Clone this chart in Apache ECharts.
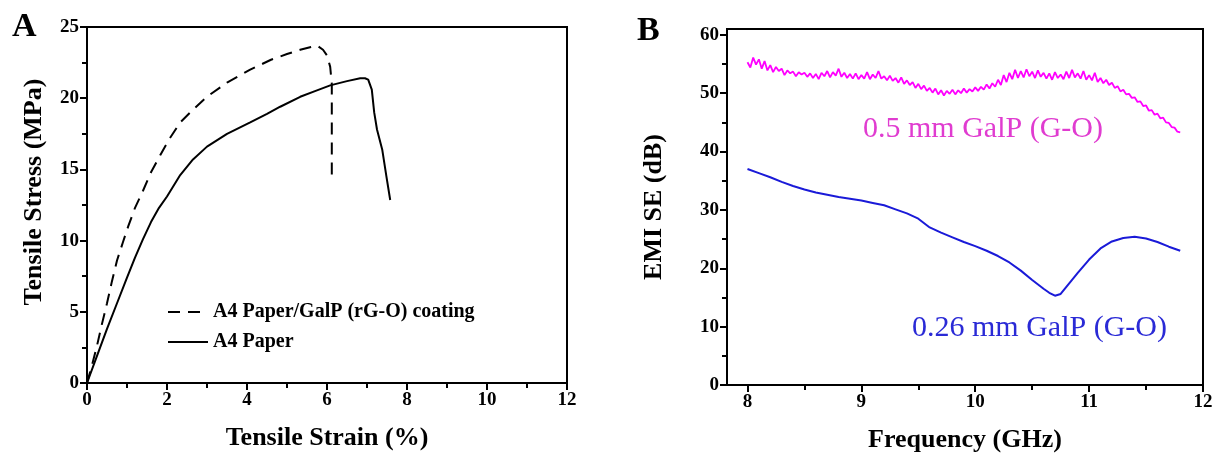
<!DOCTYPE html>
<html>
<head>
<meta charset="utf-8">
<script src="https://cdn.jsdelivr.net/npm/echarts@6/dist/echarts.min.js"></script>
<style>
html, body { margin: 0; padding: 0; background: #fff; }
#main { width: 1216px; height: 461px; }
</style>
</head>
<body>
<div id="main"></div>
<script>
// panel A: tensile test
var strainTicksA = [0, 2, 4, 6, 8, 10, 12];
var stressTicksA = [0, 5, 10, 15, 20, 25];
var coatedCurve = [
    [0, 0], [0.12, 1.2], [0.24, 2.5], [0.37, 4.1], [0.5, 5.6], [0.62, 7.1], [0.75, 8.6],
    [0.9, 9.9], [1.03, 11.0], [1.2, 12.3], [1.4, 13.5], [1.6, 14.8], [1.83, 16.0],
    [2.05, 17.1], [2.33, 18.3], [2.65, 19.2], [3.0, 20.1], [3.5, 21.1], [4.08, 22.0],
    [4.6, 22.7], [5.0, 23.1], [5.33, 23.4], [5.6, 23.6], [5.75, 23.7], [5.9, 23.4],
    [6.0, 23.0], [6.08, 22.2], [6.12, 21.0], [6.12, 14.5]
];
var paperCurve = [
    [0, 0], [0.25, 1.9], [0.5, 3.8], [0.75, 5.6], [1.0, 7.4], [1.2, 8.8], [1.4, 10.1],
    [1.6, 11.3], [1.8, 12.3], [2.0, 13.1], [2.33, 14.6], [2.65, 15.7], [3.0, 16.6],
    [3.5, 17.5], [4.08, 18.3], [4.5, 18.9], [4.83, 19.4], [5.33, 20.1], [5.7, 20.5],
    [6.08, 20.9], [6.5, 21.2], [6.83, 21.4], [6.95, 21.4], [7.03, 21.3], [7.12, 20.6],
    [7.18, 19.0], [7.25, 17.8], [7.38, 16.4], [7.48, 14.6], [7.58, 12.85]
];
var legendA = ['A4 Paper/GalP (rG-O) coating', 'A4 Paper'];

// panel B: EMI shielding
var freqTicksB = [8, 9, 10, 11, 12];
var freqMinorB = [8.5, 9.5, 10.5, 11.5];
var seTicksB = [0, 10, 20, 30, 40, 50, 60];
var seMinorB = [5, 15, 25, 35, 45, 55];
var thickCurve = [
    [8.000, 55.3], [8.025, 54.4], [8.050, 56.1], [8.075, 54.9], [8.100, 55.8], [8.125, 54.2],
    [8.150, 55.5], [8.175, 53.9], [8.200, 54.8], [8.225, 53.6], [8.250, 54.5], [8.275, 53.8],
    [8.300, 54.2], [8.325, 53.1], [8.350, 53.9], [8.375, 53.4], [8.400, 53.7], [8.425, 52.9],
    [8.450, 53.6], [8.475, 53.2], [8.500, 53.5], [8.525, 52.8], [8.550, 53.4], [8.575, 52.6],
    [8.600, 53.3], [8.625, 52.4], [8.650, 53.5], [8.675, 52.9], [8.700, 53.8], [8.725, 52.7],
    [8.750, 53.6], [8.775, 53.0], [8.800, 54.2], [8.825, 52.8], [8.850, 53.5], [8.875, 52.6],
    [8.900, 53.3], [8.925, 52.5], [8.950, 53.4], [8.975, 52.4], [9.000, 53.1], [9.025, 52.5],
    [9.050, 53.6], [9.075, 52.4], [9.100, 53.2], [9.125, 52.6], [9.150, 53.8], [9.175, 52.5],
    [9.200, 52.9], [9.225, 52.2], [9.250, 53.0], [9.275, 52.1], [9.300, 52.6], [9.325, 51.8],
    [9.350, 52.7], [9.375, 51.6], [9.400, 52.2], [9.425, 51.4], [9.450, 51.9], [9.475, 50.9],
    [9.500, 51.6], [9.525, 50.7], [9.550, 51.3], [9.575, 50.4], [9.600, 50.9], [9.625, 50.1],
    [9.650, 50.8], [9.675, 49.8], [9.700, 50.5], [9.725, 49.6], [9.750, 50.4], [9.775, 49.9],
    [9.800, 50.6], [9.825, 49.8], [9.850, 50.5], [9.875, 50.0], [9.900, 50.8], [9.925, 50.1],
    [9.950, 50.7], [9.975, 50.3], [10.000, 51.0], [10.025, 50.4], [10.050, 51.1], [10.075, 50.6],
    [10.100, 51.5], [10.125, 50.8], [10.150, 51.7], [10.175, 51.1], [10.200, 52.3], [10.225, 51.4],
    [10.250, 53.1], [10.275, 51.9], [10.300, 53.5], [10.325, 52.4], [10.350, 54.0], [10.375, 52.6],
    [10.400, 53.8], [10.425, 52.7], [10.450, 54.1], [10.475, 52.9], [10.500, 53.7], [10.525, 52.6],
    [10.550, 53.9], [10.575, 52.8], [10.600, 53.5], [10.625, 52.5], [10.650, 53.4], [10.675, 52.3],
    [10.700, 53.6], [10.725, 52.6], [10.750, 53.2], [10.775, 52.4], [10.800, 53.7], [10.825, 52.6],
    [10.850, 54.0], [10.875, 52.7], [10.900, 53.4], [10.925, 52.5], [10.950, 53.8], [10.975, 52.3],
    [11.000, 53.1], [11.025, 52.2], [11.050, 53.5], [11.075, 51.9], [11.100, 52.6], [11.125, 51.7],
    [11.150, 52.3], [11.175, 51.4], [11.200, 51.8], [11.225, 50.9], [11.250, 51.2], [11.275, 50.3],
    [11.300, 50.6], [11.325, 49.8], [11.350, 49.9], [11.375, 49.2], [11.400, 49.3], [11.425, 48.5],
    [11.450, 48.6], [11.475, 47.8], [11.500, 47.9], [11.525, 47.0], [11.550, 47.1], [11.575, 46.3],
    [11.600, 46.5], [11.625, 45.7], [11.650, 45.8], [11.675, 45.0], [11.700, 44.9], [11.725, 44.2],
    [11.750, 44.1], [11.775, 43.4], [11.800, 43.3]
];
var thinCurve = [
    [8.0, 37.0], [8.1, 36.3], [8.2, 35.6], [8.3, 34.8], [8.4, 34.1], [8.5, 33.5], [8.6, 33.0],
    [8.7, 32.6], [8.8, 32.2], [8.9, 31.9], [9.0, 31.6], [9.1, 31.2], [9.2, 30.8], [9.3, 30.1],
    [9.4, 29.4], [9.5, 28.5], [9.6, 27.0], [9.7, 26.1], [9.8, 25.3], [9.9, 24.5], [10.0, 23.8],
    [10.1, 23.0], [10.2, 22.1], [10.3, 21.0], [10.4, 19.6], [10.5, 18.0], [10.6, 16.5],
    [10.65, 15.8], [10.7, 15.3], [10.75, 15.6], [10.8, 16.8], [10.9, 19.2], [11.0, 21.5],
    [11.1, 23.4], [11.2, 24.6], [11.3, 25.2], [11.4, 25.4], [11.5, 25.1], [11.6, 24.5],
    [11.7, 23.7], [11.8, 23.0]
];
var labelsB = ['0.5 mm GalP (G-O)', '0.26 mm GalP (G-O)'];

var serif = "'Liberation Serif', 'Times New Roman', serif";

// common look of a boxed axis
function axisBase(extra) {
    var a = {
        axisLine: { show: true, onZero: false, lineStyle: { color: '#000', width: 2 } },
        axisTick: { show: true, inside: false, length: 7, lineStyle: { color: '#000', width: 2 } },
        axisLabel: { color: '#000', fontFamily: serif, fontWeight: 'bold', fontSize: 19 },
        splitLine: { show: false },
        nameLocation: 'middle',
        nameTextStyle: { color: '#000', fontFamily: serif, fontWeight: 'bold', fontSize: 26 }
    };
    for (var k in extra) a[k] = extra[k];
    return a;
}

// extra axis that only carries the minor ticks of panel B
function minorAxis(pos, lo, hi, ticks) {
    return {
        gridIndex: 1, type: 'value', position: pos, min: lo, max: hi,
        axisLine: { show: false },
        axisTick: { show: true, inside: false, length: 5, customValues: ticks, lineStyle: { color: '#000', width: 2 } },
        axisLabel: { show: false },
        splitLine: { show: false }
    };
}

var myChart = echarts.init(document.getElementById('main'));

var option = {
    backgroundColor: '#fff',
    animation: false,
    grid: [
        { left: 87, top: 27, width: 480, height: 356, show: true, borderColor: '#000', borderWidth: 2 },
        { left: 727, top: 29, width: 476, height: 356, show: true, borderColor: '#000', borderWidth: 2 }
    ],
    legend: {
        orient: 'vertical',
        left: 162,
        top: 297,
        itemWidth: 40,
        itemHeight: 14,
        itemGap: 10,
        data: legendA,
        itemStyle: { opacity: 0 },
        textStyle: { color: '#000', fontFamily: serif, fontWeight: 'bold', fontSize: 20 }
    },
    xAxis: [
        axisBase({
            gridIndex: 0, type: 'value', min: strainTicksA[0], max: strainTicksA[strainTicksA.length - 1],
            interval: 2, name: 'Tensile Strain (%)', nameGap: 42,
            minorTick: { show: true, splitNumber: 2, length: 5, lineStyle: { color: '#000', width: 2 } }
        }),
        axisBase({
            gridIndex: 1, type: 'value', position: 'bottom', min: 7.82, max: 12,
            name: 'Frequency (GHz)', nameGap: 42
        }),
        minorAxis('bottom', 7.82, 12, freqMinorB)
    ],
    yAxis: [
        axisBase({
            gridIndex: 0, type: 'value', min: stressTicksA[0], max: stressTicksA[stressTicksA.length - 1],
            interval: 5, name: 'Tensile Stress (MPa)', nameGap: 40,
            minorTick: { show: true, splitNumber: 2, length: 5, lineStyle: { color: '#000', width: 2 } }
        }),
        axisBase({
            gridIndex: 1, type: 'value', position: 'left', min: 0, max: 61,
            name: 'EMI SE (dB)', nameGap: 60
        }),
        minorAxis('left', 0, 61, seMinorB)
    ],
    series: [
        {
            name: legendA[0], type: 'line', xAxisIndex: 0, yAxisIndex: 0, data: coatedCurve,
            symbol: 'none', lineStyle: { color: '#000', width: 2, type: [12, 8] }, itemStyle: { color: '#000' }
        },
        {
            name: legendA[1], type: 'line', xAxisIndex: 0, yAxisIndex: 0, data: paperCurve,
            symbol: 'none', lineStyle: { color: '#000', width: 2 }, itemStyle: { color: '#000' }
        },
        {
            name: labelsB[0], type: 'line', xAxisIndex: 1, yAxisIndex: 1, data: thickCurve,
            symbol: 'none', lineStyle: { color: '#ff00ff', width: 1.8 }
        },
        {
            name: labelsB[1], type: 'line', xAxisIndex: 1, yAxisIndex: 1, data: thinCurve,
            symbol: 'none', lineStyle: { color: '#1a1ad8', width: 2 }
        }
    ],
    graphic: [
        { type: 'text', left: 12, top: 10, style: { text: 'A', font: 'bold 34px ' + serif, fill: '#000' } },
        { type: 'text', left: 637, top: 14, style: { text: 'B', font: 'bold 34px ' + serif, fill: '#000' } },
        { type: 'text', left: 863, top: 114, style: { text: labelsB[0], font: '30px ' + serif, fill: '#e03cd0' } },
        { type: 'text', left: 912, top: 313, style: { text: labelsB[1], font: '30px ' + serif, fill: '#2a2ad6' } }
    ]
};

// panel B ticks are placed at round values, not from the axis min
option.xAxis[1].axisTick.customValues = freqTicksB;
option.xAxis[1].axisLabel.customValues = freqTicksB;
option.yAxis[1].axisTick.customValues = seTicksB;
option.yAxis[1].axisLabel.customValues = seTicksB;
// move the rotated stress title up a little
option.yAxis[0].nameTextStyle = {
    color: '#000', fontFamily: serif, fontWeight: 'bold', fontSize: 26, padding: [0, 0, 0, 26]
};

myChart.setOption(option);
</script>
</body>
</html>
